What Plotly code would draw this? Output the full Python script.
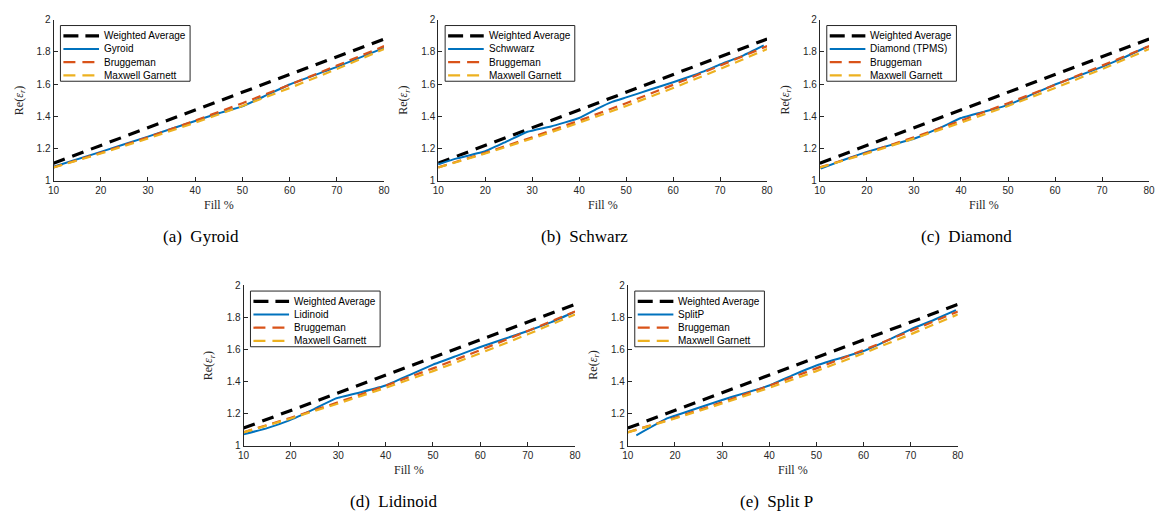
import plotly.graph_objects as go

# ---------------- data ----------------
fill_wa = [10, 80]
weighted_average = [1.11, 1.88]

fill_em = [10, 20, 30, 40, 50, 60, 70, 80]
bruggeman = [1.084, 1.174, 1.271, 1.374, 1.482, 1.596, 1.715, 1.836]
maxwell_garnett = [1.083, 1.170, 1.263, 1.361, 1.465, 1.576, 1.694, 1.818]

fill_gyroid = [10, 20, 30, 40, 45, 50, 55, 60, 70, 80]
gyroid = [1.088, 1.180, 1.275, 1.372, 1.420, 1.462, 1.530, 1.598, 1.707, 1.825]

fill_schwarz = [10, 14, 20, 24, 29, 34, 40, 44, 47, 50, 55, 60, 65, 70, 75, 79.3]
schwarz = [1.103, 1.140, 1.184, 1.237, 1.305, 1.338, 1.390, 1.450, 1.490, 1.518,
           1.565, 1.612, 1.662, 1.722, 1.779, 1.840]

fill_diamond = [10.2, 15, 20, 25, 30, 32, 36, 40, 45, 50, 55, 60, 65, 70, 75, 79.6]
diamond = [1.076, 1.130, 1.180, 1.222, 1.262, 1.285, 1.335, 1.390, 1.430, 1.470,
           1.535, 1.598, 1.652, 1.707, 1.770, 1.832]

fill_lidinoid = [10, 15, 19.4, 25, 29.5, 35, 40, 45, 50, 55, 60, 65, 70, 75, 79.6]
lidinoid = [1.071, 1.110, 1.155, 1.230, 1.295, 1.335, 1.375, 1.440, 1.505, 1.560,
            1.615, 1.665, 1.715, 1.770, 1.830]

fill_splitp = [11.8, 18.3, 20, 30, 40, 45, 50, 55, 60, 65, 70, 75, 79.6]
splitp = [1.065, 1.170, 1.187, 1.285, 1.375, 1.440, 1.500, 1.545, 1.590, 1.655,
          1.725, 1.785, 1.845]

x_ticks = [10, 20, 30, 40, 50, 60, 70, 80]
y_ticks = [1, 1.2, 1.4, 1.6, 1.8, 2]
y_tick_labels = ["1", "1.2", "1.4", "1.6", "1.8", "2"]

structure_names = ["Gyroid", "Schwwarz", "Diamond (TPMS)", "Lidinoid", "SplitP"]
structure_fills = [fill_gyroid, fill_schwarz, fill_diamond, fill_lidinoid, fill_splitp]
structure_values = [gyroid, schwarz, diamond, lidinoid, splitp]
captions = ["(a)  Gyroid", "(b)  Schwarz", "(c)  Diamond", "(d)  Lidinoid", "(e)  Split P"]

# ---------------- layout geometry (pixels) ----------------
W, H = 1167, 527
boxes = [  # (x0, x1, ytop, ybottom) of each axes box
    (48, 382, 14, 179),
    (436.7, 769, 14, 179),
    (822.3, 1155, 14, 179),
    (240, 575, 285.7, 450),
    (628.3, 961.7, 285.7, 450),
]

BLUE = "#0072BD"
ORANGE = "#D95319"
YELLOW = "#EDB120"
AX = "#262626"
SANS = "Liberation Sans, Arial, sans-serif"
SERIF = "Liberation Serif, Times New Roman, serif"

def px(x):
    return x / W

def py(y):
    return 1 - y / H

fig = go.Figure()
annotations = []
shapes = []
layout = dict(width=W, height=H, margin=dict(l=0, r=0, t=0, b=0),
              paper_bgcolor="white", plot_bgcolor="white", showlegend=False)

for i in range(5):
    name = structure_names[i]
    n = "" if i == 0 else str(i + 1)
    xa, ya = "x" + n, "y" + n
    styles = [
        ("Weighted Average", fill_wa, weighted_average,
         dict(color="black", width=3.2, dash="12px,8px")),
        (name, structure_fills[i], structure_values[i],
         dict(color=BLUE, width=2, shape="spline", smoothing=0.3)),
        ("Bruggeman", fill_em, bruggeman, dict(color=ORANGE, width=2.2, dash="9px,6px")),
        ("Maxwell Garnett", fill_em, maxwell_garnett,
         dict(color=YELLOW, width=2.2, dash="9px,6px")),
    ]
    for nm, xs, ys, ln in styles:
        fig.add_trace(go.Scatter(x=xs, y=ys, mode="lines", name=nm, line=ln,
                                 xaxis=xa, yaxis=ya))

    x0, x1, yt, yb = boxes[i]
    common = dict(showgrid=False, zeroline=False, showline=True, linecolor=AX,
                  linewidth=1, ticks="inside", ticklen=4, tickcolor=AX, tickwidth=1,
                  tickfont=dict(family=SANS, size=10, color=AX))
    layout["xaxis" + n] = dict(domain=[px(x0), px(x1)], range=[10, 80],
                               tickvals=x_ticks, anchor=ya, **common)
    layout["yaxis" + n] = dict(domain=[py(yb), py(yt)], range=[1, 2],
                               tickvals=y_ticks, ticktext=y_tick_labels, anchor=xa,
                               **common)

    # ---- legend box (drawn like MATLAB's compact legend) ----
    lx0 = x0 + 7
    lx1 = lx0 + 131
    ly0 = yt + 6
    ly1 = ly0 + 57
    shapes.append(dict(type="rect", xref="paper", yref="paper",
                       x0=px(lx0), x1=px(lx1), y0=py(ly1), y1=py(ly0),
                       line=dict(color=AX, width=1), fillcolor="white", layer="above"))
    row_offsets = [10.5, 24, 37.5, 51]
    sample_dash = ["15px,7px", "solid", "12px,7px", "12px,7px"]
    for (nm, _, _, ln), ro, dsh in zip(styles, row_offsets, sample_dash):
        ry = ly0 + ro
        shapes.append(dict(type="line", xref="paper", yref="paper",
                           x0=px(lx0 + 3), x1=px(lx0 + 39), y0=py(ry), y1=py(ry),
                           line=dict(color=ln["color"], width=ln["width"], dash=dsh),
                           layer="above"))
        annotations.append(dict(text=nm, x=px(lx0 + 42), y=py(ry), xref="paper",
                                yref="paper", showarrow=False, xanchor="left",
                                yanchor="middle",
                                font=dict(family=SANS, size=10, color="black")))

    cx = (x0 + x1) / 2
    annotations.append(dict(text="Fill %", x=px(cx), y=py(yb + 25), xref="paper",
                            yref="paper", showarrow=False, xanchor="center",
                            yanchor="middle", font=dict(family=SERIF, size=12, color=AX)))
    annotations.append(dict(text="Re(<i>ε<sub>r</sub></i>)", x=px(x0 - 34),
                            y=py((yt + yb) / 2), xref="paper", yref="paper",
                            showarrow=False, textangle=-90, xanchor="center",
                            yanchor="middle", font=dict(family=SERIF, size=12, color=AX)))
    annotations.append(dict(text=captions[i], x=px(cx - (18 if i < 3 else 16)),
                            y=py(yb + 57), xref="paper", yref="paper", showarrow=False,
                            xanchor="center", yanchor="middle",
                            font=dict(family=SERIF, size=17, color="black")))

layout["annotations"] = annotations
layout["shapes"] = shapes
fig.update_layout(**layout)
fig.write_html("out.html")
